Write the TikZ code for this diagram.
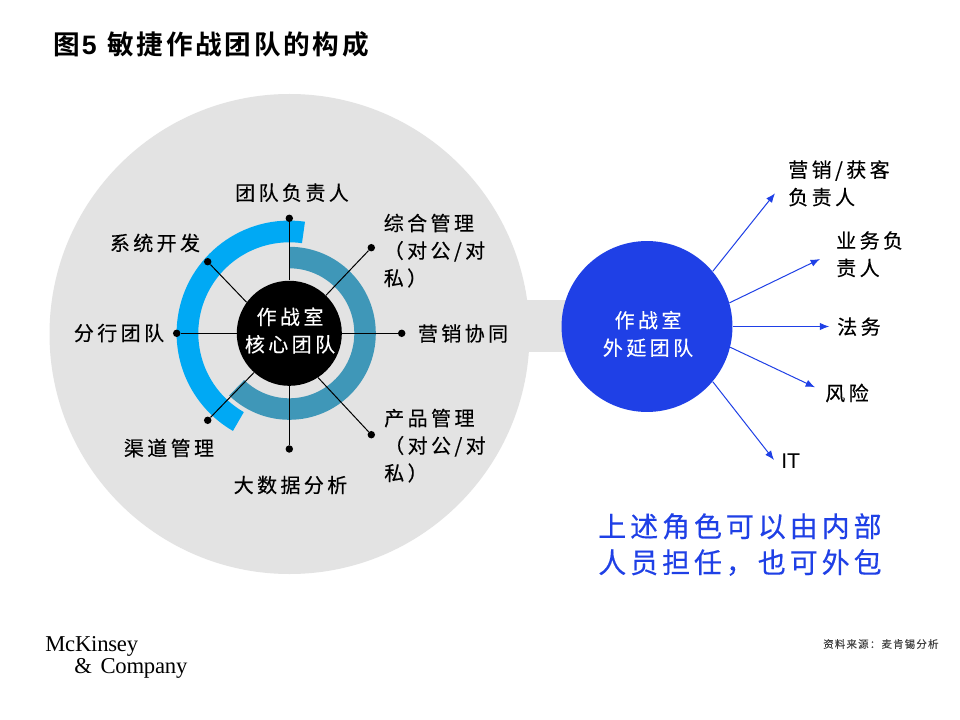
\documentclass[tikz,border=0pt]{standalone}
\usepackage{fontspec}
\setmainfont{Noto Sans CJK SC}
\newfontfamily\lab[LetterSpace=17,FakeBold=0.3]{Noto Sans CJK SC}
\newfontfamily\ttl[LetterSpace=10,BoldFont={Noto Sans CJK SC Bold}]{Noto Sans CJK SC}
\newfontfamily\blu[LetterSpace=14,FakeBold=0.3]{Noto Sans CJK SC}
\newfontfamily\arl{Liberation Sans}
\newfontfamily\logo[LetterSpace=-1]{Liberation Serif}
\newfontfamily\src[LetterSpace=12,FakeBold=0.2]{Noto Sans CJK SC}
\definecolor{grayd}{HTML}{E3E3E3}
\definecolor{sky}{HTML}{00A9F4}
\definecolor{teal2}{HTML}{3F97B8}
\definecolor{royal}{HTML}{1F40E6}
\usetikzlibrary{arrows.meta,calc}
\tikzset{
  x=0.75pt,y=0.75pt,
  lbl/.style={font=\lab\fontsize{15}{20.6}\selectfont,inner sep=0pt,text=black},
  lbll/.style={lbl,align=left,anchor=north west},
  lblc/.style={lbl,align=center},
  dotn/.style={circle,fill=black,minimum size=5.6pt,inner sep=0pt},
  spoke/.style={draw=black,line width=0.75pt},
  hub/.style={circle,inner sep=0pt,minimum size=78.8pt,fill=black},
  exth/.style={circle,inner sep=0pt,minimum size=128.2pt,fill=royal},
  blarrow/.style={draw=royal,line width=0.75pt,-{Latex[length=7pt,width=5.5pt]}},
}
\begin{document}
\begin{tikzpicture}
\useasboundingbox (0,-720) rectangle (960,0);
\fill[white] (0,-720) rectangle (960,0);
% grey disc and bridge
\fill[grayd] (289.5,-334) circle[radius=240];
\fill[grayd] (520,-300) rectangle (600,-352);
% arcs
\fill[teal2] ($(289.3,-333.3)+(90:86.5)$) arc[start angle=90,end angle=-134,radius=86.5]
  -- ($(289.3,-333.3)+(226:65)$) arc[start angle=226,end angle=450,radius=65] -- cycle;
\fill[sky] ($(289.3,-333.3)+(82:112.7)$) arc[start angle=82,end angle=240,radius=112.7]
  -- ($(289.3,-333.3)+(240:91)$) arc[start angle=240,end angle=82,radius=91] -- cycle;
% hubs
\node[hub] (core) at (289.3,-333.3) {};
\node[exth] (ext) at (647,-326.5) {};
% dots
\node[dotn] (d1) at (289.3,-218.3) {};
\node[dotn] (d2) at (371.3,-247.7) {};
\node[dotn] (d3) at (401.7,-333.3) {};
\node[dotn] (d4) at (371.3,-434.7) {};
\node[dotn] (d5) at (289.3,-449) {};
\node[dotn] (d6) at (207.7,-420.3) {};
\node[dotn] (d7) at (176.7,-333.3) {};
\node[dotn] (d8) at (207.7,-261.7) {};
\draw[spoke] (core.90) -- (d1);
\draw[spoke] (core.46) -- (d2);
\draw[spoke] (core.0) -- (d3);
\draw[spoke] (core.-57) -- (d4);
\draw[spoke] (core.-90) -- (d5);
\draw[spoke] (core.228) -- (d6);
\draw[spoke] (core.180) -- (d7);
\draw[spoke] (core.144) -- (d8);
% hub labels
\node[lblc,text=white] (corel) at (290,-330.5) {作战室\\核心团队};
\node[lblc,text=white] (extl) at (648,-334) {作战室\\外延团队};
% circle labels
\node[lblc] (l1) at (292,-192.7) {团队负责人};
\node[lbll] (l2) at (383.5,-213.5) {综合管理\\（对公/对\\私）};
\node[lblc] (l3) at (463,-333.5) {营销协同};
\node[lbll] (l4) at (384,-408.5) {产品管理\\（对公/对\\私）};
\node[lblc] (l5) at (290.5,-485) {大数据分析};
\node[lblc] (l6) at (169,-448) {渠道管理};
\node[lblc] (l7) at (119,-333) {分行团队};
\node[lblc] (l8) at (155,-243) {系统开发};
% outer team labels
\node[lbll] (r1) at (788,-160) {营销/获客\\负责人};
\node[lbll] (r2) at (836,-231) {业务负\\责人};
\node[lbl,anchor=west] (r3) at (837,-326.7) {法务};
\node[lbl,anchor=west] (r4) at (825,-393) {风险};
\node[inner sep=0pt,anchor=west,font=\arl\fontsize{16}{18}\selectfont] (r5) at (781,-460.7) {IT};
% arrows
\coordinate (a1) at (775,-193.3);
\coordinate (a2) at (820,-259);
\coordinate (a3) at (829.3,-326.5);
\coordinate (a4) at (815,-387.3);
\coordinate (a5) at (774,-460);
\draw[blarrow] (ext.40) -- (a1);
\draw[blarrow] (ext.16) -- (a2);
\draw[blarrow] (ext.0) -- (a3);
\draw[blarrow] (ext.-14) -- (a4);
\draw[blarrow] (ext.-40) -- (a5);
% title
\node[inner sep=0pt,anchor=west,font=\ttl\bfseries\fontsize{20}{24}\selectfont] (title) at (53,-44) {图{\arl\bfseries\hspace{1.5pt}5\hspace{8pt}}敏捷作战团队的构成};
% callout
\node[inner sep=0pt,anchor=north west,align=left,text=royal,font=\blu\fontsize{21}{27}\selectfont] (note) at (598,-513) {上述角色可以由内部\\人员担任，也可外包};
% logo
\node[inner sep=0pt,anchor=base west,font=\logo\fontsize{17}{20}\selectfont] (logo1) at (45,-651) {McKinsey};
\node[inner sep=0pt,anchor=base west,font=\logo\fontsize{17}{20}\selectfont] (logo2) at (74,-673) {\&\hspace{6.5pt}Company};
% source
\node[inner sep=0pt,anchor=west,text=black!75,font=\src\fontsize{7.8}{9}\selectfont] (source) at (823,-644) {资料来源：麦肯锡分析};
\end{tikzpicture}
\end{document}
